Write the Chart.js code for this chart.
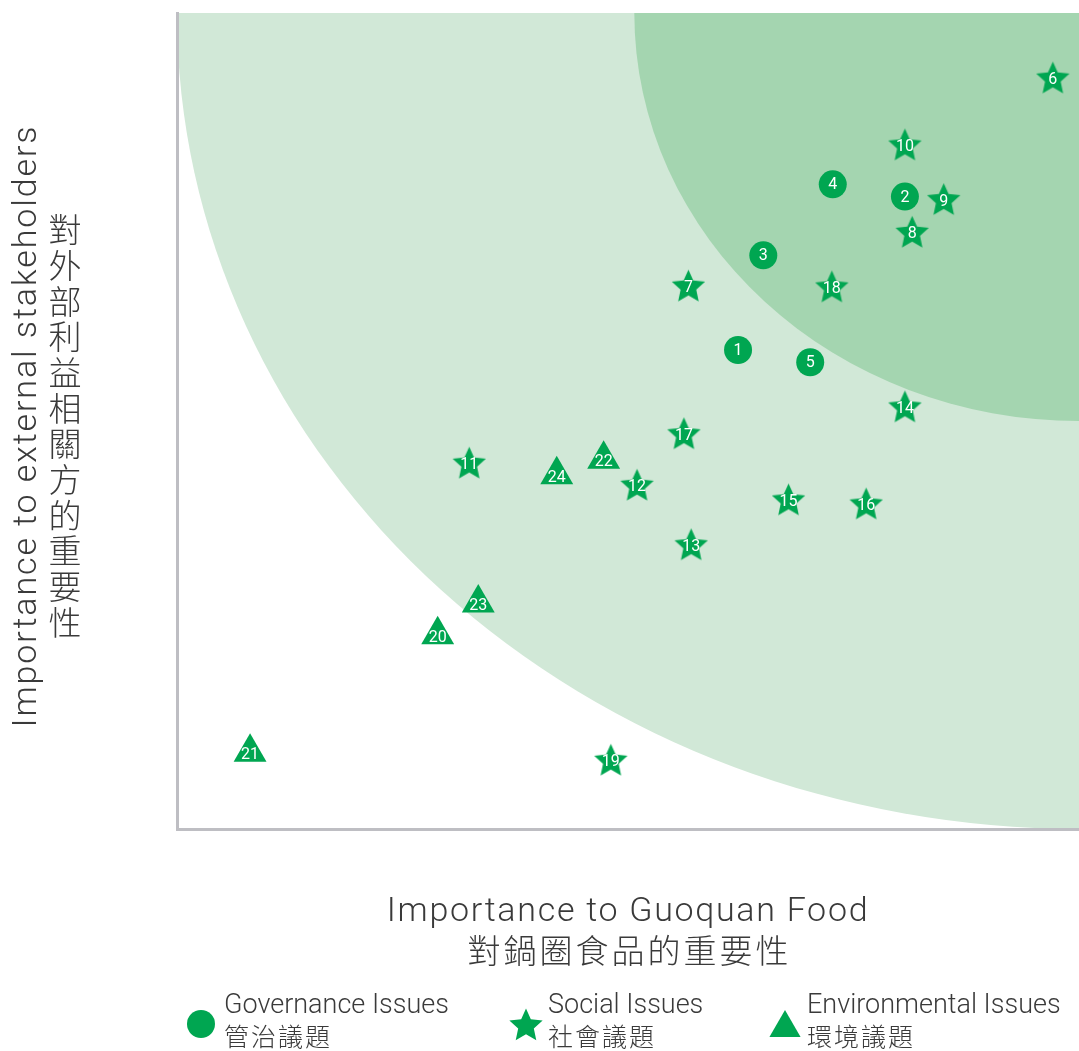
<!DOCTYPE html>
<html>
<head>
<meta charset="utf-8">
<script src="https://cdn.jsdelivr.net/npm/chart.js@4.4.1/dist/chart.umd.min.js"></script>
<style>
  html, body { margin: 0; padding: 0; background: #fff; }
  #wrap { position: relative; width: 1079px; height: 1051px; }
</style>
</head>
<body>
<div id="wrap"><canvas id="matrix"></canvas></div>
<script>
// materiality matrix: both axes 0-100
const govIds = [1, 2, 3, 4, 5];
const govX = [62.2, 80.7, 65.0, 72.7, 70.2];
const govY = [58.7, 77.5, 70.3, 79.0, 57.2];

const socIds = [6, 7, 8, 9, 10, 11, 12, 13, 14, 15, 16, 17, 18, 19];
const socX = [97.1, 56.7, 81.5, 85.0, 80.7, 32.4, 51.0, 57.0, 80.7, 67.8, 76.4, 56.2, 72.6, 48.1];
const socY = [91.9, 66.4, 73.0, 77.0, 83.7, 44.7, 42.0, 34.7, 51.6, 40.2, 39.7, 48.3, 66.3, 8.3];

const envIds = [20, 21, 22, 23, 24];
const envX = [28.9, 8.1, 47.3, 33.4, 42.1];
const envY = [23.8, 9.4, 45.3, 27.7, 43.4];

// priority zones, quarter ellipses from the top-right corner (axis units)
const zoneRx = [100, 49.3];
const zoneRy = [100, 50];
const zoneColors = ["#d1e8d7", "#a4d5b0"];

const xTitle = ["Importance to Guoquan Food", "對鍋圈食品的重要性"];
const yTitle = ["Importance to external stakeholders", "對外部利益相關方的重要性"];
const legendEn = ["Governance Issues", "Social Issues", "Environmental Issues"];
const legendZh = ["管治議題", "社會議題", "環境議題"];

const GREEN = "#00a651";
const TEXT = "#3a3a3a";
const EN_FONT = "Roboto, 'Liberation Sans', sans-serif";
const ZH_FONT = "'Noto Sans CJK TC', 'Noto Sans CJK SC', sans-serif";

function drawStar(g, cx, cy, r) {
  g.beginPath();
  for (let i = 0; i < 10; i++) {
    const rr = i % 2 ? r * 0.47 : r;
    const a = -Math.PI / 2 + i * Math.PI / 5;
    g.lineTo(cx + Math.cos(a) * rr, cy + Math.sin(a) * rr);
  }
  g.closePath();
  g.fillStyle = GREEN;
  g.fill();
}

function starImage(r) {
  const c = document.createElement("canvas");
  const s = Math.ceil(r * 2) + 2;
  c.width = s; c.height = s;
  drawStar(c.getContext("2d"), s / 2, s / 2, r);
  return c;
}

const toPoints = (xs, ys) => xs.map((x, i) => ({ x, y: ys[i] }));

const zonesPlugin = {
  id: "zones",
  beforeDraw(chart) {
    const { ctx, chartArea: a, scales: { x, y } } = chart;
    const cx = x.getPixelForValue(100), cy = y.getPixelForValue(100);
    ctx.save();
    ctx.beginPath();
    ctx.rect(a.left, a.top, a.right - a.left, a.bottom - a.top);
    ctx.clip();
    zoneRx.forEach((rx, i) => {
      const px = cx - x.getPixelForValue(100 - rx);
      const py = y.getPixelForValue(100 - zoneRy[i]) - cy;
      ctx.beginPath();
      ctx.ellipse(cx, cy, px, py, 0, 0, Math.PI * 2);
      ctx.fillStyle = zoneColors[i];
      ctx.fill();
    });
    ctx.restore();
  }
};

const numberLabels = {
  id: "numberLabels",
  afterDatasetsDraw(chart) {
    const ctx = chart.ctx;
    ctx.save();
    ctx.fillStyle = "#fff";
    ctx.font = "16px " + EN_FONT;
    ctx.textAlign = "center";
    ctx.textBaseline = "middle";
    chart.data.datasets.forEach((ds, i) => {
      chart.getDatasetMeta(i).data.forEach((pt, j) => {
        ctx.fillText(String(ds.ids[j]), pt.x, pt.y + (ds.labelShift || 0) + 1);
      });
    });
    ctx.restore();
  }
};

const titlesLegend = {
  id: "titlesLegend",
  afterDraw(chart) {
    const { ctx, chartArea: a } = chart;
    const midX = (a.left + a.right) / 2;
    const midY = (a.top + a.bottom) / 2 + 5;
    ctx.save();
    ctx.fillStyle = TEXT;
    ctx.textBaseline = "middle";

    // x title
    ctx.textAlign = "center";
    ctx.font = "300 34px " + EN_FONT;
    ctx.letterSpacing = "1.7px";
    ctx.fillText(xTitle[0], midX, 912);
    ctx.font = "300 33px " + ZH_FONT;
    ctx.letterSpacing = "3px";
    ctx.fillText(xTitle[1], midX + 1.5, 950);

    // y title: rotated english, upright chinese stacked
    ctx.save();
    ctx.translate(27, midY);
    ctx.rotate(-Math.PI / 2);
    ctx.font = "300 34px " + EN_FONT;
    ctx.letterSpacing = "1.9px";
    ctx.fillText(yTitle[0], 0, 0);
    ctx.restore();
    ctx.letterSpacing = "0px";
    ctx.font = "300 33px " + ZH_FONT;
    const chars = Array.from(yTitle[1]);
    const step = 35.7;
    chars.forEach((ch, i) => {
      ctx.fillText(ch, 65, midY - (chars.length - 1) * step / 2 + i * step);
    });

    // legend
    const keyX = [201, 526, 785];
    const textX = [224, 548, 807];
    ctx.fillStyle = GREEN;
    ctx.beginPath();
    ctx.arc(keyX[0], 1024, 14, 0, Math.PI * 2);
    ctx.fill();
    drawStar(ctx, keyX[1], 1026, 17.5);
    const r = 18;
    ctx.beginPath();
    ctx.moveTo(keyX[2], 1028 - r);
    ctx.lineTo(keyX[2] + r * 0.866, 1028 + r / 2);
    ctx.lineTo(keyX[2] - r * 0.866, 1028 + r / 2);
    ctx.closePath();
    ctx.fill();

    ctx.fillStyle = TEXT;
    ctx.textAlign = "left";
    legendEn.forEach((t, i) => {
      ctx.font = "300 27px " + EN_FONT;
      ctx.letterSpacing = "0px";
      ctx.fillText(t, textX[i], 1006);
      ctx.font = "300 25px " + ZH_FONT;
      ctx.letterSpacing = "2px";
      ctx.fillText(legendZh[i], textX[i], 1036);
    });
    ctx.restore();
  }
};

new Chart(document.getElementById("matrix"), {
  type: "scatter",
  data: {
    datasets: [
      { label: legendEn[0], ids: govIds, data: toPoints(govX, govY),
        pointStyle: "circle", pointRadius: 14, backgroundColor: GREEN, borderWidth: 0 },
      { label: legendEn[1], ids: socIds, data: toPoints(socX, socY),
        pointStyle: starImage(17.5), pointRadius: 17.5, backgroundColor: GREEN, borderWidth: 0 },
      { label: legendEn[2], ids: envIds, data: toPoints(envX, envY), labelShift: 2,
        pointStyle: "triangle", pointRadius: 19, backgroundColor: GREEN, borderWidth: 0 }
    ]
  },
  options: {
    responsive: true, maintainAspectRatio: false,
    animation: false,
    events: [],
    layout: { autoPadding: false, padding: { top: 13, right: 0, bottom: 0, left: 0 } },
    plugins: { legend: { display: false }, tooltip: { enabled: false } },
    scales: {
      x: {
        min: 0, max: 100,
        ticks: { display: false },
        grid: { drawOnChartArea: false, drawTicks: false },
        border: { display: true, color: "#bebec3", width: 3 },
        afterFit: s => { s.height = 222; }
      },
      y: {
        min: 0, max: 100,
        ticks: { display: false },
        grid: { drawOnChartArea: false, drawTicks: false },
        border: { display: true, color: "#bebec3", width: 3 },
        afterFit: s => { s.width = 177; }
      }
    }
  },
  plugins: [zonesPlugin, numberLabels, titlesLegend]
});
</script>
</body>
</html>
